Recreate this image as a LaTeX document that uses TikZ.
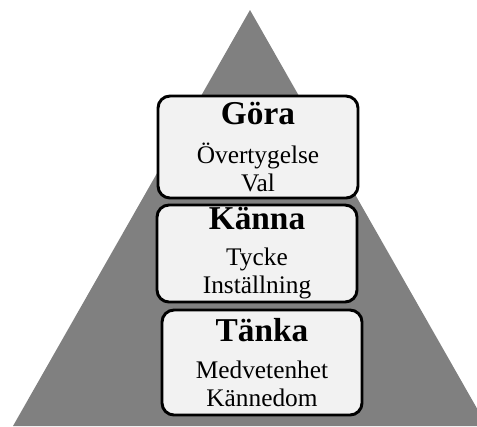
\documentclass[tikz,border=0pt]{standalone}
\usepackage{fontspec}
\setmainfont{Liberation Serif}
\usepackage{tikz}
\usetikzlibrary{positioning}
\tikzset{
  pyramid_fill/.style={fill=gray, draw=none},
  level_box/.style={rectangle, draw=black, fill=black!5, line width=2.2pt, rounded corners=9pt, minimum width=150pt, align=center, inner sep=0pt, font=\fontsize{19}{21}\selectfont},
}
\newcommand{\leveltitle}[1]{{\fontsize{25}{26}\selectfont\bfseries #1}}

\begin{document}
\begin{tikzpicture}[x=0.75pt, y=-0.75pt]
  \useasboundingbox (0,0) rectangle (477,426);
  \clip (0,0) rectangle (477,426);

  % Pyramid
  \fill[pyramid_fill] (250,10) -- (487,426) -- (13,426) -- cycle;

  % Levels
  \node[level_box, minimum height=76.5pt] (gora) at (258,147) {\leveltitle{Göra}\\[8pt]Övertygelse\\Val};
  \node[level_box, minimum height=72.75pt] (kanna) at (257,253.5) {\leveltitle{Känna}\\[6pt]Tycke\\Inställning};
  \node[level_box, minimum height=78.75pt] (tanka) at (262,362.5) {\leveltitle{Tänka}\\[7pt]Medvetenhet\\Kännedom};
\end{tikzpicture}
\end{document}
